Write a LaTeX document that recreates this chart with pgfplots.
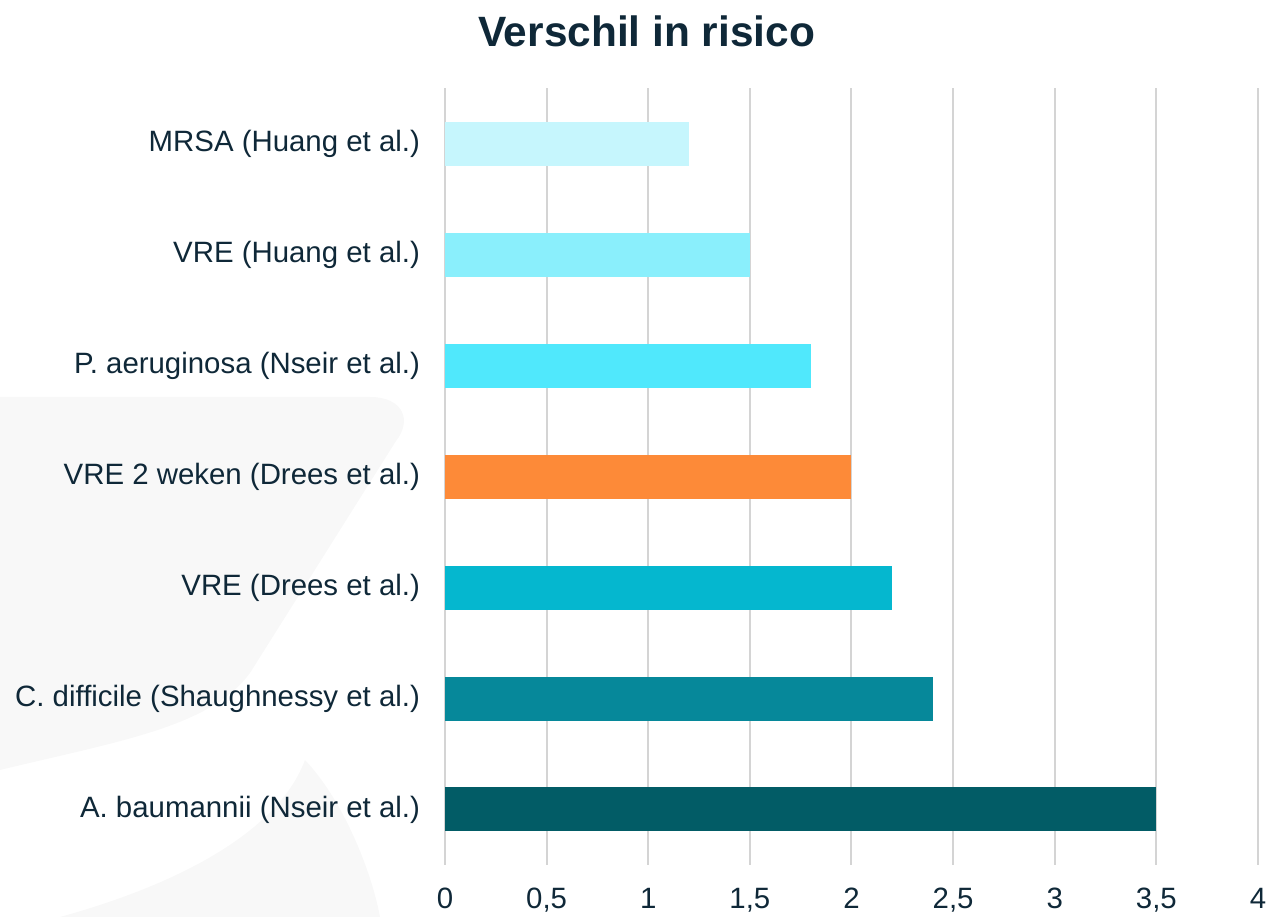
\documentclass[border=0pt]{standalone}
\usepackage{fontspec}
\setmainfont{Liberation Sans}
\usepackage{pgfplots}
\pgfplotsset{compat=1.18}

\definecolor{txt}{HTML}{0F2838}
\definecolor{bgshape}{HTML}{F8F8F8}
\definecolor{gridc}{HTML}{D4D4D4}
\definecolor{c1}{HTML}{C6F6FD}
\definecolor{c2}{HTML}{8AEFFC}
\definecolor{c3}{HTML}{50E8FC}
\definecolor{c4}{HTML}{FD8A38}
\definecolor{c5}{HTML}{05B7CF}
\definecolor{c6}{HTML}{06889A}
\definecolor{c7}{HTML}{025C66}

\begin{document}
\begin{tikzpicture}
\path[use as bounding box] (0,0) rectangle (633pt,458.5pt);
% faint decorative shapes behind the chart
\fill[bgshape] (0pt,260pt) -- (185pt,260pt) .. controls (202pt,260pt) and (206pt,248pt) .. (198pt,238pt)
  -- (125pt,122pt) .. controls (105pt,95pt) and (60pt,88pt) .. (0pt,73.5pt) -- cycle;
\fill[bgshape] (152.5pt,78.5pt) .. controls (172pt,58pt) and (186pt,22pt) .. (190pt,0pt)
  -- (30pt,0pt) .. controls (95pt,18pt) and (140pt,45pt) .. cycle;

\node[font=\fontsize{21.2}{24}\selectfont\bfseries, text=txt] at (323.25pt,443pt) {Verschil in risico};

\begin{axis}[
  at={(222.5pt,26pt)}, anchor=south west,
  scale only axis, width=406.5pt, height=388.5pt,
  xbar, bar width=22pt, bar shift=0pt,
  xmin=0, xmax=4, ymin=-0.5, ymax=6.5,
  xtick={0,0.5,...,4},
  ytick={0,1,2,3,4,5,6},
  yticklabels={A. baumannii (Nseir et al.),
    C. difficile (Shaughnessy et al.),
    VRE (Drees et al.),
    VRE 2 weken (Drees et al.),
    P. aeruginosa (Nseir et al.),
    VRE (Huang et al.),
    MRSA (Huang et al.)},
  /pgf/number format/use comma,
  /pgf/number format/assume math mode=true,
  xmajorgrids, grid style={gridc, line width=1pt},
  axis line style={draw=none},
  major tick length=0pt,
  tick label style={font=\fontsize{14.7}{17}\selectfont, text=txt},
  xticklabel style={yshift=-8pt},
  yticklabel style={xshift=-9pt},
]
\addplot[fill=c7, draw=none] coordinates {(3.5,0)};
\addplot[fill=c6, draw=none] coordinates {(2.4,1)};
\addplot[fill=c5, draw=none] coordinates {(2.2,2)};
\addplot[fill=c4, draw=none] coordinates {(2.0,3)};
\addplot[fill=c3, draw=none] coordinates {(1.8,4)};
\addplot[fill=c2, draw=none] coordinates {(1.5,5)};
\addplot[fill=c1, draw=none] coordinates {(1.2,6)};
\end{axis}
\end{tikzpicture}
\end{document}
